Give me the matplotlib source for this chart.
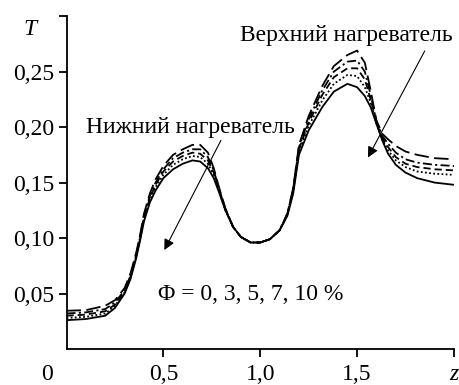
import matplotlib
matplotlib.use("Agg")
import matplotlib.pyplot as plt

plt.rcParams['font.family'] = ['Liberation Serif', 'DejaVu Serif']
plt.rcParams['mathtext.fontset'] = 'stix'

# ---- data ----
z = [0.00, 0.10, 0.20, 0.25, 0.30, 0.33, 0.36, 0.38, 0.40, 0.43, 0.46, 0.50, 0.55,
     0.60, 0.65, 0.69, 0.73, 0.76, 0.79, 0.82, 0.86, 0.90, 0.95, 1.00, 1.05, 1.10,
     1.14, 1.17, 1.20, 1.25, 1.32, 1.38, 1.45, 1.50, 1.54, 1.57, 1.60, 1.63, 1.66,
     1.70, 1.75, 1.81, 1.90, 2.00]

T_phi0 = [0.026, 0.027, 0.030, 0.037, 0.050, 0.063, 0.082, 0.098, 0.115, 0.132, 0.143,
          0.154, 0.162, 0.167, 0.170, 0.169, 0.163, 0.154, 0.140, 0.125, 0.110, 0.101,
          0.096, 0.096, 0.099, 0.107, 0.120, 0.140, 0.175, 0.197, 0.218, 0.232, 0.239,
          0.236, 0.228, 0.218, 0.203, 0.188, 0.176, 0.166, 0.159, 0.154, 0.150, 0.148]
T_phi3 = [0.028, 0.029, 0.032, 0.039, 0.051, 0.064, 0.083, 0.099, 0.117, 0.134, 0.146,
          0.157, 0.166, 0.171, 0.174, 0.173, 0.167, 0.157, 0.141, 0.125, 0.110, 0.101,
          0.096, 0.096, 0.099, 0.107, 0.121, 0.142, 0.178, 0.201, 0.224, 0.239, 0.247,
          0.246, 0.236, 0.222, 0.203, 0.189, 0.179, 0.170, 0.164, 0.160, 0.158, 0.157]
T_phi5 = [0.030, 0.031, 0.034, 0.040, 0.052, 0.065, 0.084, 0.100, 0.118, 0.136, 0.148,
          0.160, 0.169, 0.174, 0.177, 0.176, 0.170, 0.159, 0.142, 0.126, 0.110, 0.101,
          0.096, 0.096, 0.099, 0.107, 0.121, 0.143, 0.180, 0.204, 0.229, 0.245, 0.253,
          0.253, 0.243, 0.225, 0.204, 0.190, 0.182, 0.173, 0.167, 0.164, 0.162, 0.161]
T_phi7 = [0.032, 0.033, 0.036, 0.042, 0.053, 0.066, 0.085, 0.101, 0.120, 0.138, 0.150,
          0.162, 0.172, 0.177, 0.180, 0.180, 0.173, 0.161, 0.143, 0.126, 0.110, 0.101,
          0.096, 0.096, 0.099, 0.107, 0.122, 0.144, 0.182, 0.207, 0.233, 0.250, 0.259,
          0.260, 0.250, 0.229, 0.205, 0.192, 0.185, 0.177, 0.171, 0.168, 0.166, 0.165]
T_phi10 = [0.0345, 0.035, 0.039, 0.044, 0.055, 0.068, 0.087, 0.103, 0.122, 0.140, 0.153,
           0.165, 0.175, 0.180, 0.184, 0.184, 0.177, 0.163, 0.144, 0.127, 0.110, 0.101,
           0.096, 0.096, 0.099, 0.107, 0.122, 0.145, 0.184, 0.210, 0.237, 0.255, 0.265,
           0.269, 0.258, 0.233, 0.206, 0.194, 0.189, 0.183, 0.178, 0.175, 0.172, 0.171]

x_ticks = [0.5, 1.0, 1.5, 2.0]
x_tick_labels = ['0,5', '1,0', '1,5', 'z']
y_ticks = [0.05, 0.10, 0.15, 0.20, 0.25, 0.30]
y_tick_labels = ['0,05', '0,10', '0,15', '0,20', '0,25', '']

series = [T_phi0, T_phi3, T_phi5, T_phi7, T_phi10]
styles = ['-', (0, (1.0, 1.3)), (0, (4, 2.2)), (0, (5, 1.8, 1.2, 1.8)), (0, (8, 3))]

FS = 17
TICK_LEN = 5.5
X_PAD = 5

fig = plt.figure(figsize=(4.59, 3.85), dpi=100)
ax = fig.add_axes([0.1449, 0.0935, 0.8441, 0.8645])

for ys, ls in zip(series, styles):
    ax.plot(z, ys, color='black', lw=1.3, linestyle=ls, solid_capstyle='butt',
            dash_capstyle='butt', solid_joinstyle='round')

ax.set_xlim(0, 2.0)
ax.set_ylim(0, 0.30)
for s in ['top', 'right']:
    ax.spines[s].set_visible(False)
for s in ['left', 'bottom']:
    ax.spines[s].set_linewidth(1.3)

ax.set_xticks(x_ticks)
ax.set_xticklabels(x_tick_labels, fontsize=FS)
ax.get_xticklabels()[-1].set_fontstyle('italic')
ax.set_yticks(y_ticks)
ax.set_yticklabels(y_tick_labels, fontsize=FS)
ax.tick_params(axis='both', direction='out', length=TICK_LEN, width=1.3)
ax.tick_params(axis='x', pad=X_PAD)
ax.tick_params(axis='y', pad=3)

# origin label and axis name T
ax.annotate('0', xy=(0, 0), xycoords='data', xytext=(-13.7, -(TICK_LEN + X_PAD)),
            textcoords='offset points', ha='center', va='top', fontsize=FS)
ax.annotate('T', xy=(0, 0.30), xycoords='data', xytext=(-26.6, -9.4),
            textcoords='offset points', ha='center', va='center', fontsize=FS,
            fontstyle='italic')

# text labels
ax.text(1.444, 0.2776, 'Верхний нагреватель', fontsize=FS, ha='center', va='baseline')
ax.text(0.638, 0.195, 'Нижний нагреватель', fontsize=FS, ha='center', va='baseline')
ax.text(0.951, 0.0444, 'Φ = 0, 3, 5, 7, 10 %', fontsize=FS, ha='center', va='baseline')

arrow = dict(arrowstyle='-|>', lw=0.8, color='black', mutation_scale=16,
             shrinkA=0, shrinkB=0)
ax.annotate('', xy=(1.556, 0.1726), xytext=(1.849, 0.2686), arrowprops=arrow)
ax.annotate('', xy=(0.505, 0.0892), xytext=(0.797, 0.188), arrowprops=arrow)

fig.savefig('out.png', dpi=100)
